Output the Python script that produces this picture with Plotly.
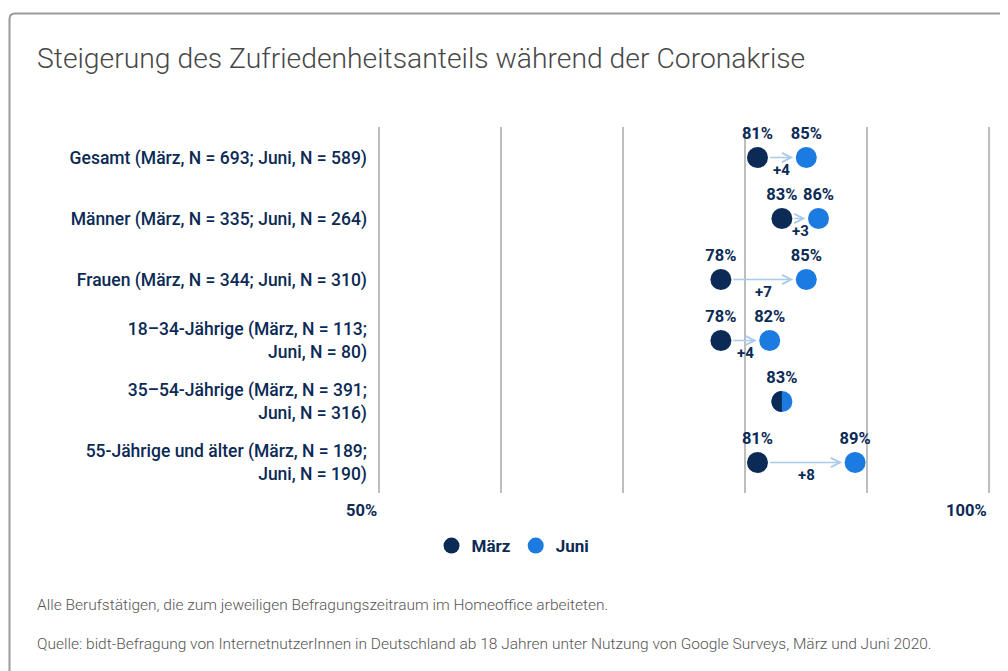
import plotly.graph_objects as go

# Data
groups = [
    "Gesamt (März, N = 693; Juni, N = 589)",
    "Männer (März, N = 335; Juni, N = 264)",
    "Frauen (März, N = 344; Juni, N = 310)",
    "18–34-Jährige (März, N = 113;<br>Juni, N = 80)",
    "35–54-Jährige (März, N = 391;<br>Juni, N = 316)",
    "55-Jährige und älter (März, N = 189;<br>Juni, N = 190)",
]
maerz = [81, 83, 78, 78, 83, 81]
juni = [85, 86, 85, 82, 83, 89]
axis_labels = {50: "50%", 100: "100%"}

title = "Steigerung des Zufriedenheitsanteils während der Coronakrise"
notes = [
    "Alle Berufstätigen, die zum jeweiligen Befragungszeitraum im Homeoffice arbeiteten.",
    "Quelle: bidt-Befragung von InternetnutzerInnen in Deutschland ab 18 Jahren unter Nutzung von Google Surveys, März und Juni 2020.",
]

NAVY = "#0b2a55"
BLUE = "#1b7be0"
ARROW = "#a8cbea"
GRID = "#bdbdbd"
FONT = "Roboto"

W, H = 1008, 671
L, R, T, B = 370, 22.6, 119, 186
PW, PH = W - L - R, H - T - B

rows = list(range(len(groups)))

fig = go.Figure()

# Juni first so the half dot of the equal row can sit on top
fig.add_trace(go.Scatter(
    x=juni, y=rows, mode="markers+text", name="Juni",
    marker=dict(size=21, color=BLUE),
    text=[f"{v}%" for v in juni], textposition="top center",
    textfont=dict(family=FONT, size=16.5, color=NAVY, weight="bold"),
    hoverinfo="skip",
))
fig.add_trace(go.Scatter(
    x=[m if m != j else None for m, j in zip(maerz, juni)], y=rows,
    mode="markers+text", name="März",
    marker=dict(size=21, color=NAVY),
    text=[f"{m}%" if m != j else "" for m, j in zip(maerz, juni)],
    textposition="top center",
    textfont=dict(family=FONT, size=16.5, color=NAVY, weight="bold"),
    hoverinfo="skip",
))

annotations = []
shapes = []
r = 10.5
k = 0.5523 * r
for i, (m, j) in enumerate(zip(maerz, juni)):
    if m == j:
        # left half of the dot in März colour
        shapes.append(dict(
            type="path", xref="x", yref="y", xsizemode="pixel", ysizemode="pixel",
            xanchor=m, yanchor=i, layer="above", line=dict(width=0), fillcolor=NAVY,
            path=f"M 0,{r} C {-k},{r} {-r},{k} {-r},0 C {-r},{-k} {-k},{-r} 0,{-r} Z",
        ))
        continue
    annotations.append(dict(
        x=j, y=i, ax=m, ay=i, xref="x", yref="y", axref="x", ayref="y",
        text="", showarrow=True, arrowhead=5, arrowsize=1.3, arrowwidth=1.4,
        arrowcolor=ARROW, standoff=13, startstandoff=11,
    ))
    annotations.append(dict(
        x=(m + j) / 2, y=i, xref="x", yref="y", text=f"+{j - m}", showarrow=False,
        yshift=-12, font=dict(family=FONT, size=15, color=NAVY, weight="bold"),
    ))

for v, t in axis_labels.items():
    annotations.append(dict(
        x=v, y=0, xref="x", yref="paper", text=t, showarrow=False,
        xanchor="right", yanchor="top", yshift=-6,
        font=dict(family=FONT, size=16.5, color=NAVY, weight="bold"),
    ))
    # make sure the edge gridlines are drawn
    shapes.append(dict(type="line", xref="x", yref="paper", x0=v, x1=v, y0=0, y1=1,
                       layer="below", line=dict(color=GRID, width=1.5)))

for n, yy in zip(notes, [597, 636]):
    annotations.append(dict(
        x=(27 - L) / PW, y=(H - B - yy) / PH, xref="paper", yref="paper",
        text=n, showarrow=False, xanchor="left", yanchor="middle",
        font=dict(family=FONT, size=15.5, color="#555555", weight=300),
    ))

# outer frame (left and top edge with rounded corner)
shapes.append(dict(
    type="path", xref="paper", yref="paper", xsizemode="pixel", ysizemode="pixel",
    xanchor=0, yanchor=1, layer="below", line=dict(color="#9a9a9a", width=2),
    path="M -368.5,-600 L -368.5,108 Q -368.5,113.5 -363,113.5 L 700,113.5",
))

fig.update_layout(
    width=W, height=H,
    margin=dict(l=L, r=R, t=T, b=B),
    paper_bgcolor="white", plot_bgcolor="white",
    title=dict(text=title, x=29 / W, xanchor="left", xref="container",
               y=1 - 50 / H, yanchor="middle", yref="container",
               font=dict(family=FONT, size=28.3, color="#474747", weight=300)),
    legend=dict(orientation="h", xref="container", yref="container",
                x=0.501, xanchor="center", y=1 - 538 / H, yanchor="middle",
                traceorder="reversed",
                font=dict(family=FONT, size=17, color=NAVY, weight="bold")),
    annotations=annotations, shapes=shapes,
    showlegend=True,
)
fig.update_xaxes(range=[49.9, 100.3], tick0=50, dtick=10, showgrid=True, gridcolor=GRID,
                 gridwidth=1.5, showticklabels=False, zeroline=False, showline=False)
fig.update_yaxes(range=[5.5, -0.5], tickvals=rows, ticktext=groups, showgrid=False,
                 zeroline=False, ticks="", ticklabelstandoff=10,
                 tickfont=dict(family=FONT, size=17.5, color=NAVY, weight=500))

fig.write_html("out.html")
